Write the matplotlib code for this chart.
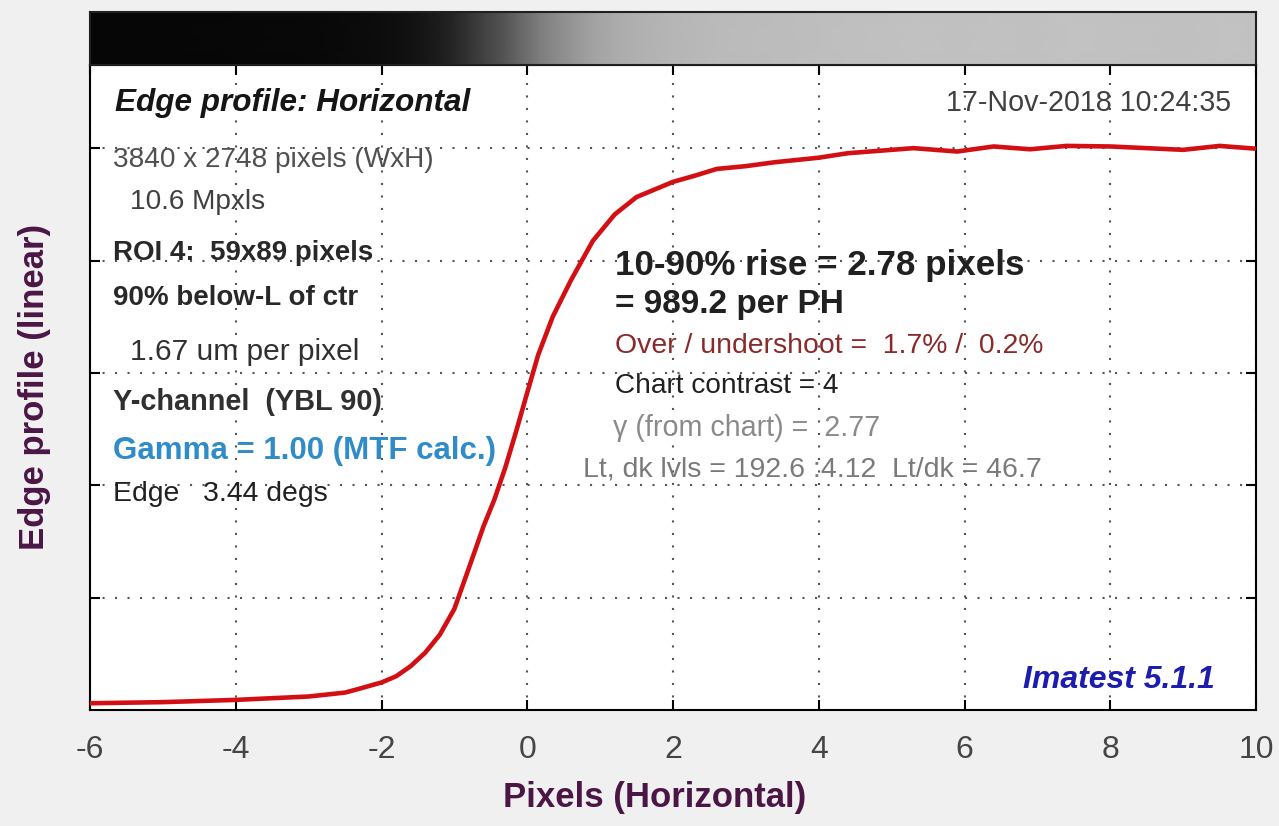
import matplotlib
matplotlib.use("Agg")
import matplotlib.pyplot as plt
import numpy as np

# ---------------- data ----------------
pixels = [-6.0, -5.0, -4.0, -3.0, -2.5, -2.3, -2.0, -1.8, -1.6, -1.4, -1.2, -1.0,
          -0.8, -0.6, -0.45, -0.3, -0.15, 0.0, 0.15, 0.35, 0.6, 0.9, 1.2, 1.5,
          2.0, 2.3, 2.6, 3.0, 3.4, 4.0, 4.4, 5.0, 5.3, 5.9, 6.4, 6.9, 7.4, 8.0,
          9.0, 9.5, 10.0]
profile = [0.012, 0.014, 0.018, 0.024, 0.031, 0.038, 0.049, 0.060, 0.078, 0.102,
           0.134, 0.180, 0.253, 0.327, 0.375, 0.432, 0.497, 0.565, 0.632, 0.700,
           0.765, 0.835, 0.882, 0.913, 0.940, 0.951, 0.963, 0.968, 0.975, 0.983,
           0.991, 0.997, 1.000, 0.994, 1.003, 0.998, 1.004, 1.003, 0.997, 1.004,
           0.999]
x_ticks = [-6, -4, -2, 0, 2, 4, 6, 8, 10]
x_tick_labels = ["-6", "-4", "-2", "0", "2", "4", "6", "8", "10"]
y_ticks = [0.2, 0.4, 0.6, 0.8, 1.0]
LIGHT_LEVEL = 192.6
DARK_LEVEL = 4.12

left_texts = [
    ("3840 x 2748 pixels (WxH)", 113, 160, "normal", "#505050", 20.2),
    ("10.6 Mpxls", 130, 202, "normal", "#404040", 20.2),
    ("ROI 4:  59x89 pixels", 113, 253, "bold", "#282828", 20),
    ("90% below-L of ctr", 113, 298, "bold", "#282828", 20),
    ("1.67 um per pixel", 130, 352, "normal", "#303030", 21.5),
    ("Y-channel  (YBL 90)", 113, 402, "bold", "#303030", 20.8),
    ("Gamma = 1.00 (MTF calc.)", 113, 451, "bold", "#2f8cc8", 22.5),
    ("Edge   3.44 degs", 113, 494, "normal", "#202020", 20.4),
]
right_texts = [
    ("10-90% rise = 2.78 pixels", 615, 265, "bold", "#202020", 25.2),
    ("= 989.2 per PH", 615, 305, "bold", "#202020", 24),
    ("Over / undershoot =  1.7% /  0.2%", 615, 346, "normal", "#8a2a2a", 20.4),
    ("Chart contrast = 4", 615, 386, "normal", "#202020", 20.2),
    ("γ (from chart) =  2.77", 613, 428, "normal", "#8a8a8a", 20.6),
    ("Lt, dk lvls = 192.6 :4.12  Lt/dk = 46.7", 583, 470, "normal", "#7a7a7a", 20.5),
]

# ---------------- figure ----------------
W, H = 1279, 826
plt.rcParams['font.family'] = ['Liberation Sans', 'DejaVu Sans']
fig = plt.figure(figsize=(W / 100, H / 100), dpi=100, facecolor="#f0f0f0")

L, R, T, B = 90, 1256, 65, 710
ax = fig.add_axes([L / W, 1 - B / H, (R - L) / W, (B - T) / H])
ax.set_facecolor("white")

def axf(px, py):
    return (px - L) / (R - L), (B - py) / (B - T)

ax.plot(pixels, profile, color="#d40f14", lw=3.3, solid_capstyle="butt", zorder=3)
ax.set_xlim(-6, 10)
ax.set_ylim(0, 1.148)
ax.set_xticks(x_ticks)
ax.set_xticklabels(x_tick_labels)
ax.set_yticks(y_ticks)
ax.set_yticklabels([])
ax.tick_params(direction="in", length=7, width=1.5, top=True, right=True,
               labelsize=23, labelcolor="#454545", pad=18, color="black")
ax.grid(True, linestyle=(0, (1, 5)), color="#555555", lw=1.5)
for s in ax.spines.values():
    s.set_linewidth(1.5)
    s.set_color("black")

ax.set_xlabel("Pixels (Horizontal)", fontsize=25, fontweight="bold", color="#4b1646")
ax.xaxis.set_label_coords(*axf(655, 797))
ax.xaxis.label.set_va("center")
ax.set_ylabel("Edge profile (linear)", fontsize=25, fontweight="bold", color="#4b1646")
ax.yaxis.set_label_coords(*axf(35, 387))
ax.yaxis.label.set_va("center")

# text annotations
ax.text(*axf(115, 103), "Edge profile: Horizontal", transform=ax.transAxes,
        fontsize=22.7, fontweight="bold", fontstyle="italic", color="#151515", va="center")
ax.text(*axf(1231, 103), "17-Nov-2018 10:24:35", transform=ax.transAxes,
        fontsize=20.6, color="#404040", va="center", ha="right")
for txt, px, py, fw, col, fs in left_texts + right_texts:
    ax.text(*axf(px, py), txt, transform=ax.transAxes, fontsize=fs,
            fontweight=fw, color=col, va="center", ha="left")
ax.text(*axf(1215, 680), "Imatest 5.1.1", transform=ax.transAxes,
        fontsize=23, fontweight="bold", fontstyle="italic", color="#1c1cae",
        va="center", ha="right")

# ---------------- gradient bar (edge image) ----------------
bar = fig.add_axes([L / W, 1 - T / H, (R - L) / W, (T - 12) / H])
levels = (DARK_LEVEL + np.asarray(profile) * (LIGHT_LEVEL - DARK_LEVEL)) / 255.0
X = np.vstack([pixels, pixels])
Y = np.vstack([np.zeros(len(pixels)), np.ones(len(pixels))])
C = np.vstack([levels, levels])
bar.pcolormesh(X, Y, C, shading="gouraud", cmap="gray", vmin=0, vmax=1)
bar.set_xlim(-6, 10)
bar.set_ylim(0, 1)
bar.set_xticks([])
bar.set_yticks([])
for s in bar.spines.values():
    s.set_linewidth(1.5)
    s.set_color("#202020")

fig.savefig("out.png", dpi=100, facecolor=fig.get_facecolor())
